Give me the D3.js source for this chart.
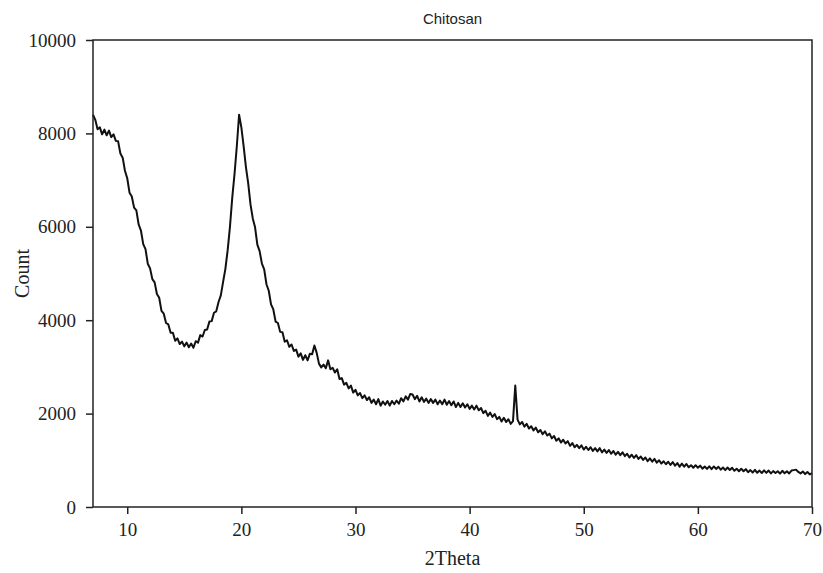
<!DOCTYPE html>
<html>
<head>
<meta charset="utf-8">
<script src="https://cdn.jsdelivr.net/npm/d3@7"></script>
<style>
  body { margin: 0; background: #fff; }
  svg text { fill: #222; }
</style>
</head>
<body>
<div id="chart"></div>
<script>
// XRD pattern, one value every 0.2 degrees from 7 to 70
const chartTitle = "Chitosan"
const xLabel = "2Theta"
const yLabel = "Count"
const thetaStart = 7
const thetaStep = 0.2
const xTicks = [10, 20, 30, 40, 50, 60, 70]
const yTicks = [0, 2000, 4000, 6000, 8000, 10000]

const counts = [
  8400, 8290, 8090, 8130, 7980, 8080, 7960, 8060, 7920, 7980,   // 7.0
  7840, 7830, 7570, 7480, 7200, 7040, 6730, 6650, 6410, 6350,   // 9.0
  6050, 5920, 5630, 5520, 5210, 5110, 4880, 4810, 4560, 4480,   // 11.0
  4200, 4140, 3940, 3910, 3730, 3730, 3560, 3610, 3490, 3540,   // 13.0
  3440, 3520, 3420, 3500, 3410, 3550, 3520, 3680, 3650, 3790,   // 15.0
  3800, 3970, 3980, 4160, 4190, 4390, 4530, 4820, 5100, 5500,   // 17.0
  6000, 6620, 7130, 7720, 8400, 8130, 7720, 7280, 6930, 6480,   // 19.0
  6180, 5990, 5620, 5480, 5210, 5090, 4770, 4630, 4340, 4230,   // 21.0
  3970, 3940, 3750, 3740, 3540, 3570, 3430, 3480, 3340, 3370,   // 23.0
  3220, 3290, 3150, 3250, 3140, 3280, 3270, 3460, 3300, 3070,   // 25.0
  2990, 3050, 2970, 3140, 2950, 2980, 2880, 2950, 2740, 2760,   // 27.0
  2620, 2660, 2540, 2600, 2450, 2510, 2390, 2440, 2330, 2390,   // 29.0
  2290, 2350, 2230, 2300, 2200, 2310, 2170, 2260, 2190, 2270,   // 31.0
  2170, 2270, 2200, 2280, 2210, 2330, 2260, 2370, 2300, 2420,   // 33.0
  2410, 2310, 2380, 2260, 2350, 2250, 2320, 2230, 2310, 2230,   // 35.0
  2300, 2200, 2280, 2200, 2300, 2190, 2270, 2180, 2260, 2140,   // 37.0
  2230, 2140, 2220, 2130, 2200, 2100, 2170, 2090, 2170, 2070,   // 39.0
  2120, 2010, 2060, 1950, 2020, 1930, 1990, 1880, 1930, 1830,   // 41.0
  1910, 1820, 1880, 1780, 1840, 2600, 1870, 1770, 1820, 1720,   // 43.0
  1780, 1680, 1730, 1640, 1700, 1600, 1650, 1560, 1620, 1530,   // 45.0
  1570, 1470, 1520, 1420, 1470, 1380, 1440, 1360, 1410, 1310,   // 47.0
  1370, 1280, 1330, 1260, 1320, 1230, 1290, 1220, 1280, 1200,   // 49.0
  1260, 1190, 1260, 1170, 1230, 1160, 1220, 1140, 1200, 1120,   // 51.0
  1180, 1110, 1170, 1090, 1140, 1060, 1120, 1050, 1110, 1030,   // 53.0
  1080, 1010, 1060, 980, 1040, 970, 1030, 950, 1000, 930,       // 55.0
  980, 915, 970, 900, 960, 885, 940, 865, 930, 865,             // 57.0
  920, 850, 895, 840, 895, 840, 885, 820, 868, 815,             // 59.0
  872, 810, 868, 815, 862, 800, 845, 790, 845, 792,             // 61.0
  840, 775, 820, 765, 820, 765, 810, 745, 790, 738,             // 63.0
  795, 732, 780, 728, 785, 732, 780, 720, 768, 728,             // 65.0
  766, 715, 775, 724, 765, 718, 780, 790, 800, 750,             // 67.0
  720, 760, 705, 750, 698, 725                                  // 69.0
]

const width = 823, height = 573
const margin = {top: 40, right: 11, bottom: 66, left: 93}

const svg = d3.select("#chart").append("svg")
    .attr("width", width)
    .attr("height", height)

const x = d3.scaleLinear()
    .domain([7, 70])
    .range([margin.left, width - margin.right])
const y = d3.scaleLinear()
    .domain([0, 10000])
    .range([height - margin.bottom, margin.top])

const data = counts.map((c, i) => ({theta: thetaStart + i * thetaStep, count: c}))

// curve
const line = d3.line()
    .x(d => x(d.theta))
    .y(d => y(d.count))

svg.append("path")
    .datum(data)
    .attr("fill", "none")
    .attr("stroke", "#111")
    .attr("stroke-width", 2)
    .attr("stroke-linejoin", "round")
    .attr("d", line)

// frame
svg.append("rect")
    .attr("x", x(7))
    .attr("y", y(10000))
    .attr("width", x(70) - x(7))
    .attr("height", y(0) - y(10000))
    .attr("fill", "none")
    .attr("stroke", "#222")
    .attr("stroke-width", 1.5)

// axes
const xAxis = svg.append("g")
    .attr("transform", `translate(0,${y(0)})`)
    .call(d3.axisBottom(x).tickValues(xTicks).tickSize(7).tickSizeOuter(0).tickPadding(9))
const yAxis = svg.append("g")
    .attr("transform", `translate(${x(7)},0)`)
    .call(d3.axisLeft(y).tickValues(yTicks).tickFormat(d3.format("d")).tickSize(7).tickSizeOuter(0).tickPadding(10))

;[xAxis, yAxis].forEach(g => {
    g.select(".domain").remove()
    g.selectAll(".tick line").attr("stroke", "#222").attr("stroke-width", 1.5)
    g.selectAll(".tick text")
        .attr("font-family", "'Liberation Serif', 'Times New Roman', serif")
        .attr("font-size", "19px")
        .attr("fill", "#222")
})

// labels
svg.append("text")
    .attr("x", (x(7) + x(70)) / 2)
    .attr("y", 565)
    .attr("text-anchor", "middle")
    .attr("font-family", "'Liberation Serif', 'Times New Roman', serif")
    .attr("font-size", "20px")
    .text(xLabel)

svg.append("text")
    .attr("transform", `translate(29,${(y(0) + y(10000)) / 2}) rotate(-90)`)
    .attr("text-anchor", "middle")
    .attr("font-family", "'Liberation Serif', 'Times New Roman', serif")
    .attr("font-size", "20px")
    .text(yLabel)

svg.append("text")
    .attr("x", (x(7) + x(70)) / 2)
    .attr("y", 24)
    .attr("text-anchor", "middle")
    .attr("font-family", "'Liberation Sans', Arial, sans-serif")
    .attr("font-size", "15px")
    .text(chartTitle)
</script>
</body>
</html>
